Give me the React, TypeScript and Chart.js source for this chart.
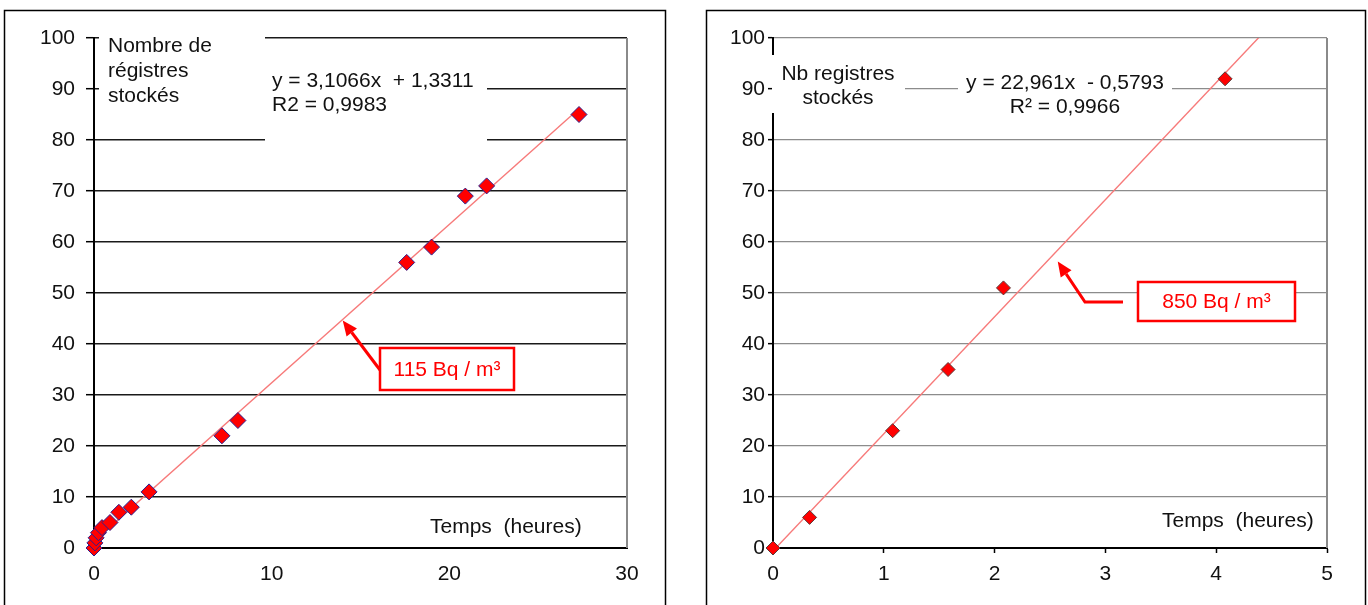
import { useEffect, useRef } from 'react';
import { Chart, registerables } from 'chart.js';

Chart.register(...registerables);

const FONT = '"Liberation Sans", Arial, sans-serif';

// ---- Left chart data (115 Bq/m3) ----
const leftHours = [0, 0.05, 0.12, 0.25, 0.45, 0.9, 1.4, 2.1, 3.1, 7.2, 8.1, 17.6, 19.0, 20.9, 22.1, 27.3];
const leftRecords = [0, 1, 2, 3, 4, 5, 7, 8, 11, 22, 25, 56, 59, 69, 71, 85];
const leftXTicks = [0, 10, 20, 30];
const leftYTicks = [0, 10, 20, 30, 40, 50, 60, 70, 80, 90, 100];
const leftSlope = 3.1066;
const leftIntercept = 1.3311;
const leftLabel = ['Nombre de', 'régistres', 'stockés'];
const leftEquation = ['y = 3,1066x  + 1,3311', 'R2 = 0,9983'];
const leftAnnotation = '115 Bq / m³';

// ---- Right chart data (850 Bq/m3) ----
const rightHours = [0, 0.33, 1.08, 1.58, 2.08, 4.08];
const rightRecords = [0, 6, 23, 35, 51, 92];
const rightXTicks = [0, 1, 2, 3, 4, 5];
const rightYTicks = [0, 10, 20, 30, 40, 50, 60, 70, 80, 90, 100];
const rightSlope = 22.961;
const rightIntercept = -0.5793;
const rightLabel = ['Nb registres', 'stockés'];
const rightEquation = ['y = 22,961x  - 0,5793', 'R² = 0,9966'];
const rightAnnotation = '850 Bq / m³';

const xTitle = 'Temps  (heures)';

type Box = { x: number; y: number; w: number; h: number };

type PanelSpec = {
  canvasLeft: number;
  canvasWidth: number;
  plotLeft: number;
  plotRight: number;
  plotTop: number;
  plotBottom: number;
  panel: Box;
  hours: number[];
  records: number[];
  xTicks: number[];
  yTicks: number[];
  xMax: number;
  slope: number;
  intercept: number;
  lineTo: number;
  gridColor: string;
  gridWidth: number;
  pointBorder: string;
  pointRadius: number;
  xDrawTicks: boolean;
  xTickPadding: number;
  yTickLength: number;
  yTickPadding: number;
  whiteBoxes: Box[];
  label: string[];
  labelX: number;
  labelY: number[];
  labelAlign: CanvasTextAlign;
  equation: string[];
  eqX: number;
  eqY: number[];
  eqAlign: CanvasTextAlign;
  titleX: number;
  titleY: number;
  annotation: string;
  annoBox: Box;
  arrowPath: [number, number][];
  arrowTip: [number, number]; // data coords
};

const W = 1368;
const H = 605;
const FS = 21;

function drawArrow(ctx: CanvasRenderingContext2D, pts: [number, number][], color: string) {
  ctx.save();
  ctx.strokeStyle = color;
  ctx.fillStyle = color;
  ctx.lineWidth = 3;
  ctx.lineJoin = 'miter';
  const n = pts.length;
  const [tx, ty] = pts[n - 1];
  const [px, py] = pts[n - 2];
  const ang = Math.atan2(ty - py, tx - px);
  const headLen = 15;
  const headHalf = 6.5;
  const bx = tx - Math.cos(ang) * headLen;
  const by = ty - Math.sin(ang) * headLen;
  ctx.beginPath();
  ctx.moveTo(pts[0][0], pts[0][1]);
  for (let i = 1; i < n - 1; i++) ctx.lineTo(pts[i][0], pts[i][1]);
  ctx.lineTo(bx, by);
  ctx.stroke();
  ctx.beginPath();
  ctx.moveTo(tx, ty);
  ctx.lineTo(bx + Math.sin(ang) * headHalf, by - Math.cos(ang) * headHalf);
  ctx.lineTo(bx - Math.sin(ang) * headHalf, by + Math.cos(ang) * headHalf);
  ctx.closePath();
  ctx.fill();
  ctx.restore();
}

function makeConfig(s: PanelSpec): any {
  const off = s.canvasLeft;
  const overlay = {
    id: 'overlay' + off,
    beforeDraw(chart: any) {
      const ctx = chart.ctx as CanvasRenderingContext2D;
      ctx.save();
      ctx.fillStyle = '#fff';
      ctx.fillRect(0, 0, chart.width, chart.height);
      ctx.restore();
    },
    beforeDatasetsDraw(chart: any) {
      const ctx = chart.ctx as CanvasRenderingContext2D;
      const a = chart.chartArea;
      ctx.save();
      // right border of the plot
      ctx.strokeStyle = '#8a8a8a';
      ctx.lineWidth = 2;
      ctx.beginPath();
      ctx.moveTo(a.right, a.top);
      ctx.lineTo(a.right, a.bottom);
      ctx.stroke();
      // white boxes behind the texts
      ctx.fillStyle = '#fff';
      s.whiteBoxes.forEach((b) => ctx.fillRect(b.x - off, b.y, b.w, b.h));
      ctx.fillStyle = '#111';
      ctx.font = `${FS}px ${FONT}`;
      ctx.textBaseline = 'middle';
      ctx.textAlign = s.labelAlign;
      s.label.forEach((t, i) => ctx.fillText(t, s.labelX - off, s.labelY[i]));
      ctx.textAlign = s.eqAlign;
      s.equation.forEach((t, i) => ctx.fillText(t, s.eqX - off, s.eqY[i]));
      ctx.textAlign = 'left';
      ctx.fillText(xTitle, s.titleX - off, s.titleY);
      ctx.restore();
    },
    afterDraw(chart: any) {
      const ctx = chart.ctx as CanvasRenderingContext2D;
      ctx.save();
      // panel frame
      ctx.strokeStyle = '#000';
      ctx.lineWidth = 1.5;
      ctx.strokeRect(s.panel.x - off, s.panel.y, s.panel.w, s.panel.h);
      // annotation
      const b = s.annoBox;
      ctx.fillStyle = '#fff';
      ctx.fillRect(b.x - off, b.y, b.w, b.h);
      ctx.strokeStyle = '#ff0000';
      ctx.lineWidth = 2.5;
      ctx.strokeRect(b.x - off, b.y, b.w, b.h);
      ctx.fillStyle = '#ff0000';
      ctx.font = `${FS}px ${FONT}`;
      ctx.textAlign = 'center';
      ctx.textBaseline = 'middle';
      ctx.fillText(s.annotation, b.x - off + b.w / 2, b.y + b.h / 2 + 1);
      const tip: [number, number] = [
        chart.scales.x.getPixelForValue(s.arrowTip[0]),
        chart.scales.y.getPixelForValue(s.arrowTip[1]),
      ];
      const pts = s.arrowPath.map(([x, y]) => [x - off, y] as [number, number]);
      drawArrow(ctx, [...pts, tip], '#ff0000');
      ctx.restore();
    },
  };

  return {
    type: 'scatter',
    data: {
      datasets: [
        {
          data: s.hours.map((x, i) => ({ x, y: s.records[i] })),
          pointStyle: 'rectRot',
          pointRadius: s.pointRadius,
          backgroundColor: '#ff0000',
          borderColor: s.pointBorder,
          borderWidth: 1,
          showLine: false,
          clip: false,
        },
        {
          type: 'line',
          data: [
            { x: 0, y: s.intercept },
            { x: s.lineTo, y: s.slope * s.lineTo + s.intercept },
          ],
          borderColor: '#f77a7a',
          borderWidth: 1.4,
          pointRadius: 0,
          fill: false,
          tension: 0,
        },
      ],
    },
    options: {
      responsive: false,
      animation: false,
      devicePixelRatio: 1,
      layout: {
        padding: { left: 0, top: s.plotTop, right: s.canvasWidth - s.plotRight, bottom: 0 },
      },
      plugins: { legend: { display: false }, tooltip: { enabled: false } },
      scales: {
        x: {
          type: 'linear',
          min: 0,
          max: s.xMax,
          afterBuildTicks: (axis: any) => {
            axis.ticks = s.xTicks.map((value) => ({ value }));
          },
          afterFit: (scale: any) => {
            scale.height = H - s.plotBottom;
          },
          grid: {
            drawOnChartArea: false,
            drawTicks: s.xDrawTicks,
            tickLength: 5,
            tickColor: '#000',
            tickWidth: 1.5,
          },
          border: { color: '#000', width: 2 },
          ticks: { color: '#111', font: { family: FONT, size: FS }, padding: s.xTickPadding, maxRotation: 0 },
        },
        y: {
          type: 'linear',
          min: 0,
          max: 100,
          afterBuildTicks: (axis: any) => {
            axis.ticks = s.yTicks.map((value) => ({ value }));
          },
          afterFit: (scale: any) => {
            scale.width = s.plotLeft;
          },
          grid: {
            color: s.gridColor,
            lineWidth: s.gridWidth,
            drawTicks: true,
            tickLength: s.yTickLength,
            tickColor: '#000',
            tickWidth: 1.5,
          },
          border: { color: '#000', width: 2 },
          ticks: { color: '#111', font: { family: FONT, size: FS }, padding: s.yTickPadding },
        },
      },
    },
    plugins: [overlay],
  };
}

const leftSpec: PanelSpec = {
  canvasLeft: 0,
  canvasWidth: 684,
  plotLeft: 94,
  plotRight: 627,
  plotTop: 38,
  plotBottom: 548,
  panel: { x: 4.5, y: 10.5, w: 661, h: 620 },
  hours: leftHours,
  records: leftRecords,
  xTicks: leftXTicks,
  yTicks: leftYTicks,
  xMax: 30,
  slope: leftSlope,
  intercept: leftIntercept,
  lineTo: leftHours[leftHours.length - 1],
  gridColor: '#1a1a1a',
  gridWidth: 1.4,
  pointBorder: '#2b1f8f',
  pointRadius: 8,
  xDrawTicks: false,
  xTickPadding: 14,
  yTickLength: 8,
  yTickPadding: 11,
  whiteBoxes: [
    { x: 99, y: 28, w: 166, h: 87 },
    { x: 265, y: 52, w: 222, h: 98 },
  ],
  label: leftLabel,
  labelX: 108,
  labelY: [46, 71, 96],
  labelAlign: 'left',
  equation: leftEquation,
  eqX: 272,
  eqY: [81, 105],
  eqAlign: 'left',
  titleX: 430,
  titleY: 527,
  annotation: leftAnnotation,
  annoBox: { x: 380, y: 348, w: 134, h: 42 },
  arrowPath: [[380, 370]],
  arrowTip: [14.0, 44.6],
};

const rightSpec: PanelSpec = {
  canvasLeft: 684,
  canvasWidth: 684,
  plotLeft: 773 - 684,
  plotRight: 1327 - 684,
  plotTop: 38,
  plotBottom: 548,
  panel: { x: 706.5, y: 10.5, w: 659, h: 620 },
  hours: rightHours,
  records: rightRecords,
  xTicks: rightXTicks,
  yTicks: rightYTicks,
  xMax: 5,
  slope: rightSlope,
  intercept: rightIntercept,
  lineTo: 5,
  gridColor: '#8c8c8c',
  gridWidth: 1.3,
  pointBorder: '#5a3a3a',
  pointRadius: 7,
  xDrawTicks: true,
  xTickPadding: 9,
  yTickLength: 5,
  yTickPadding: 3,
  whiteBoxes: [
    { x: 772, y: 55, w: 133, h: 58 },
    { x: 958, y: 62, w: 214, h: 56 },
  ],
  label: rightLabel,
  labelX: 838,
  labelY: [74, 98],
  labelAlign: 'center',
  equation: rightEquation,
  eqX: 1065,
  eqY: [83, 107],
  eqAlign: 'center',
  titleX: 1162,
  titleY: 521,
  annotation: rightAnnotation,
  annoBox: { x: 1138, y: 282, w: 157, h: 39 },
  arrowPath: [[1123, 302], [1085, 302]],
  arrowTip: [2.57, 56.2],
};

function Panel({ spec }: { spec: PanelSpec }) {
  const ref = useRef<HTMLCanvasElement | null>(null);
  useEffect(() => {
    if (!ref.current) return;
    const chart = new Chart(ref.current, makeConfig(spec));
    return () => chart.destroy();
  }, [spec]);
  return (
    <canvas
      ref={ref}
      width={spec.canvasWidth}
      height={H}
      style={{ position: 'absolute', left: spec.canvasLeft, top: 0, width: spec.canvasWidth, height: H }}
    />
  );
}

export default function App() {
  return (
    <div style={{ position: 'fixed', left: 0, top: 0, width: W, height: H, background: '#fff', overflow: 'hidden' }}>
      <Panel spec={leftSpec} />
      <Panel spec={rightSpec} />
    </div>
  );
}
